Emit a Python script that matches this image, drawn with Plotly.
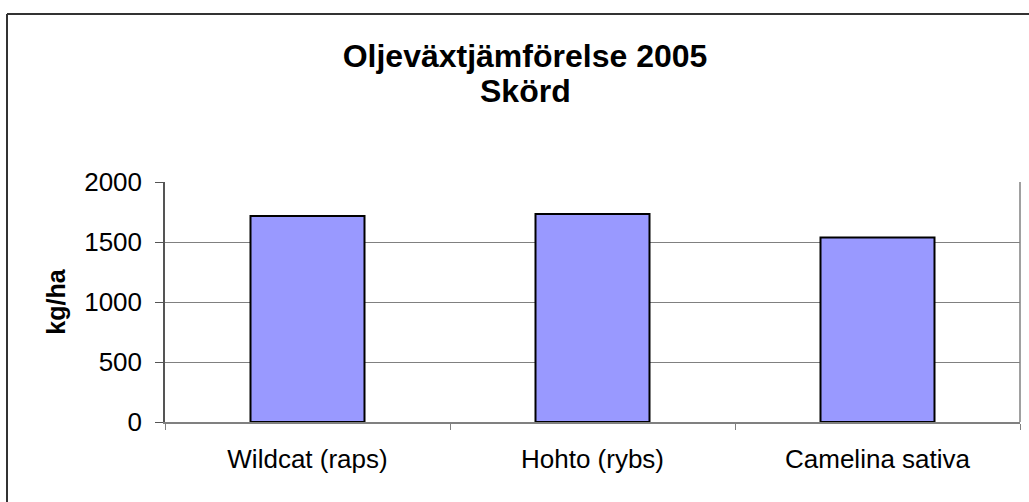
import plotly.graph_objects as go

categories = ["Wildcat (raps)", "Hohto (rybs)", "Camelina sativa"]
yield_kg_ha = [1717, 1733, 1537]
y_ticks = [0, 500, 1000, 1500, 2000]
title_line1 = "Oljeväxtjämförelse 2005"
title_line2 = "Skörd"

W, H = 1029, 502
L, R, T, B = 165, 9, 182, 80
pw = W - L - R
ph = H - T - B

def px_x(p):
    return (p - L) / pw

def px_y(p):
    return (H - B - p) / ph

fig = go.Figure()
fig.add_trace(go.Bar(
    x=categories, y=yield_kg_ha,
    marker=dict(color="#9999FF", line=dict(color="#000000", width=2)),
    width=0.4,
))

fig.update_layout(
    width=W, height=H,
    margin=dict(l=L, r=R, t=T, b=B),
    paper_bgcolor="white", plot_bgcolor="white",
    showlegend=False,
    font=dict(family="Liberation Sans, Arial, sans-serif", color="black"),
    title=dict(
        text=f"<b>{title_line1}</b>",
        x=px_x(525), xref="paper", xanchor="center",
        y=1 - 56 / H, yref="container", yanchor="middle",
        font=dict(size=32, color="black"),
    ),
    annotations=[
        dict(text=f"<b>{title_line2}</b>", xref="paper", yref="paper",
             x=px_x(525), y=px_y(91), xanchor="center", yanchor="middle",
             showarrow=False, font=dict(size=32, color="black")),
    ],
    xaxis=dict(
        showgrid=False, showline=True, linecolor="#808080", linewidth=1.5,
        ticks="outside", tickson="boundaries", ticklen=6, tickcolor="#808080",
        tickfont=dict(size=26), ticklabelstandoff=13,
    ),
    yaxis=dict(
        range=[0, 2000], tickvals=y_ticks,
        showgrid=True, gridcolor="#808080", gridwidth=1,
        showline=True, linecolor="#555555", linewidth=1.5,
        ticks="outside", ticklen=8, tickcolor="#555555",
        tickfont=dict(size=26), ticklabelstandoff=8,
        zeroline=False,
        title=dict(text="<b>kg/ha</b>", font=dict(size=25), standoff=11),
    ),
    shapes=[
        dict(type="line", xref="paper", yref="paper",
             x0=1, x1=1, y0=0, y1=1, line=dict(color="#808080", width=1.5)),
        dict(type="line", xref="paper", yref="paper",
             x0=px_x(7), x1=px_x(1040), y0=px_y(14), y1=px_y(14),
             line=dict(color="#333333", width=2)),
        dict(type="line", xref="paper", yref="paper",
             x0=px_x(7), x1=px_x(7), y0=px_y(14), y1=px_y(520),
             line=dict(color="#333333", width=2)),
    ],
)

fig.write_html("out.html", config={"displayModeBar": False},
               post_script="document.body.style.margin='0';")
